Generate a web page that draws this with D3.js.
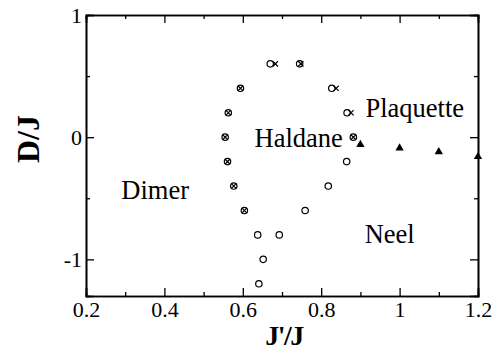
<!DOCTYPE html>
<html>
<head>
<meta charset="utf-8">
<script src="https://cdn.jsdelivr.net/npm/d3@7"></script>
<style>
  body { margin: 0; background: #fff; }
</style>
</head>
<body>
<script>
  'use strict';

  // open circles (J'/J, D/J)
  var circleX = [0.670, 0.745, 0.594, 0.827, 0.563, 0.866, 0.555, 0.882, 0.561, 0.865,
                 0.577, 0.818, 0.604, 0.759, 0.638, 0.693, 0.652, 0.641];
  var circleY = [0.6, 0.6, 0.4, 0.4, 0.2, 0.2, 0.0, 0.0, -0.2, -0.2,
                 -0.4, -0.4, -0.6, -0.6, -0.8, -0.8, -1.0, -1.2];
  // crosses
  var crossX = [0.683, 0.748, 0.594, 0.838, 0.563, 0.876, 0.555, 0.882, 0.561, 0.577, 0.604];
  var crossY = [0.6, 0.6, 0.4, 0.4, 0.2, 0.2, 0.0, 0.0, -0.2, -0.4, -0.6];
  // filled triangles
  var triX = [0.9, 1.0, 1.1, 1.2];
  var triY = [-0.06, -0.09, -0.12, -0.16];

  var xTicks = [0.2, 0.4, 0.6, 0.8, 1, 1.2];
  var xMinor = [0.3, 0.5, 0.7, 0.9, 1.1];
  var yTicks = [-1, 0, 1];
  var yMinor = [-0.5, 0.5];

  var phases = [
    {name: 'Haldane', x: 0.630, y: -0.08},
    {name: 'Plaquette', x: 0.913, y: 0.165},
    {name: 'Dimer', x: 0.290, y: -0.505},
    {name: 'Neel', x: 0.911, y: -0.870}
  ];

  var serif = 'Liberation Serif';

  var width = 497, height = 352;
  var margin = {top: 15, right: 19, bottom: 56, left: 86};
  var w = width - margin.left - margin.right,
      h = height - margin.top - margin.bottom;

  var x = d3.scaleLinear().domain([0.2, 1.2]).range([0, w]);
  var y = d3.scaleLinear().domain([-1.3, 1]).range([h, 0]);

  var svg = d3.select('body').append('svg')
    .attr('width', width)
    .attr('height', height);

  var g = svg.append('g')
    .attr('transform', 'translate(' + margin.left + ',' + margin.top + ')');

  var bigTick = 8, smallTick = 4;

  // bottom / top
  g.append('g')
    .attr('transform', 'translate(0,' + h + ')')
    .call(d3.axisBottom(x).tickValues(xMinor).tickSize(-smallTick).tickFormat(''));
  g.append('g')
    .attr('transform', 'translate(0,' + h + ')')
    .call(d3.axisBottom(x).tickValues(xTicks).tickSize(-bigTick).tickPadding(5)
      .tickFormat(function (d) { return String(d); }));
  g.append('g')
    .call(d3.axisTop(x).tickValues(xMinor).tickSize(-smallTick).tickFormat(''));
  g.append('g')
    .call(d3.axisTop(x).tickValues(xTicks).tickSize(-bigTick).tickFormat(''));

  // left / right
  g.append('g')
    .call(d3.axisLeft(y).tickValues(yMinor).tickSize(-smallTick).tickFormat(''));
  g.append('g')
    .call(d3.axisLeft(y).tickValues(yTicks).tickSize(-bigTick).tickPadding(4)
      .tickFormat(function (d) { return String(d); }));
  g.append('g')
    .attr('transform', 'translate(' + w + ',0)')
    .call(d3.axisRight(y).tickValues(yMinor).tickSize(-smallTick).tickFormat(''));
  g.append('g')
    .attr('transform', 'translate(' + w + ',0)')
    .call(d3.axisRight(y).tickValues(yTicks).tickSize(-bigTick).tickFormat(''));

  g.selectAll('.domain').attr('stroke', '#000').attr('stroke-width', 1.6);
  g.selectAll('.tick line').attr('stroke', '#000').attr('stroke-width', 1.3);
  g.selectAll('.tick text').attr('font-size', 22);

  // circles
  g.selectAll('circle.pt')
    .data(circleX)
    .enter()
    .append('circle')
      .attr('class', 'pt')
      .attr('cx', function (d) { return x(d); })
      .attr('cy', function (d, i) { return y(circleY[i]); })
      .attr('r', 3.2)
      .attr('fill', 'none')
      .attr('stroke', '#000')
      .attr('stroke-width', 1.2);

  // crosses
  g.selectAll('path.cross')
    .data(crossX)
    .enter()
    .append('path')
      .attr('class', 'cross')
      .attr('d', function (d, i) {
        var cx = x(d), cy = y(crossY[i]), s = 2.6;
        return 'M' + (cx - s) + ',' + (cy - s) + 'L' + (cx + s) + ',' + (cy + s) +
               'M' + (cx - s) + ',' + (cy + s) + 'L' + (cx + s) + ',' + (cy - s);
      })
      .attr('stroke', '#000')
      .attr('stroke-width', 1.2);

  // triangles
  g.selectAll('path.tri')
    .data(triX)
    .enter()
    .append('path')
      .attr('class', 'tri')
      .attr('transform', function (d, i) {
        return 'translate(' + x(d) + ',' + y(triY[i]) + ')';
      })
      .attr('d', d3.symbol().type(d3.symbolTriangle).size(30))
      .attr('fill', '#000');

  // phase names
  g.selectAll('text.phase')
    .data(phases)
    .enter()
    .append('text')
      .attr('class', 'phase')
      .attr('x', function (d) { return x(d.x); })
      .attr('y', function (d) { return y(d.y); })
      .attr('font-size', 26.5)
      .text(function (d) { return d.name; });

  // axis titles
  svg.append('text')
    .attr('transform', 'translate(39,139) rotate(-90)')
    .attr('text-anchor', 'middle')
    .attr('font-size', 32)
    .attr('font-weight', 'bold')
    .text('D/J');

  svg.append('text')
    .attr('x', margin.left + x(0.705))
    .attr('y', 345)
    .attr('text-anchor', 'middle')
    .attr('font-size', 28)
    .attr('letter-spacing', -1.5)
    .attr('font-weight', 'bold')
    .text("J'/J");

  // every label in the serif face
  svg.selectAll('text').attr('font-family', serif).attr('fill', '#000');
</script>
</body>
</html>
